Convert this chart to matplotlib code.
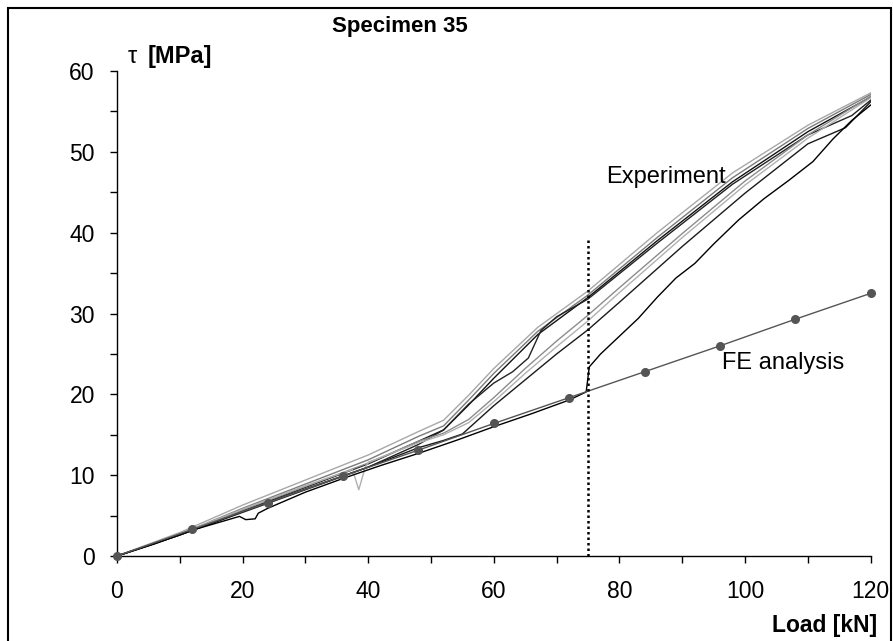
import numpy as np
import matplotlib.pyplot as plt
from matplotlib.patches import Rectangle
from matplotlib.ticker import MultipleLocator

plt.rcParams['font.family'] = ['Liberation Sans', 'DejaVu Sans']

# FE analysis
fe_load = [0, 12, 24, 36, 48, 60, 72, 84, 96, 108, 120]
fe_tau = [0.0, 3.3, 6.6, 9.9, 13.1, 16.4, 19.6, 22.8, 26.0, 29.3, 32.5]

# experiment curves (load kN, tau MPa)
exp_curves = {
    "u1": ([0, 10, 20, 30, 40, 48, 52, 56, 60, 67, 75, 86, 98, 110, 120],
           [0, 2.9, 6.3, 9.4, 12.5, 15.4, 16.8, 19.9, 23.2, 28.3, 32.8, 40.0, 47.4, 53.3, 57.3]),
    "u2": ([0, 10, 20, 30, 40, 48, 52, 56, 60, 67, 75, 86, 98, 110, 120],
           [0, 2.7, 5.9, 8.9, 11.9, 14.8, 16.1, 19.3, 22.6, 27.8, 32.3, 39.4, 46.8, 52.9, 57.1]),
    "u3": ([0, 10, 20, 30, 40, 48, 52, 56, 60, 67, 75, 86, 98, 110, 120],
           [0, 2.6, 5.6, 8.5, 11.4, 14.2, 15.6, 18.7, 22.0, 27.4, 32.0, 39.0, 46.3, 52.5, 56.8]),
    "u4": ([0, 10, 20, 30, 40, 48, 52, 56, 60, 63, 65.5, 67.5, 70, 75, 86, 98, 110, 117, 120],
           [0, 2.6, 5.5, 8.3, 11.0, 13.8, 15.6, 18.8, 21.4, 22.8, 24.5, 27.9, 29.6, 31.8, 38.7, 46.0, 52.1, 54.5, 56.4]),
    "m1": ([0, 10, 20, 30, 40, 48, 52, 56, 60, 65, 70, 75, 80, 90, 100, 110, 120],
           [0, 2.6, 5.7, 8.6, 11.5, 14.2, 15.2, 16.9, 19.6, 23.2, 26.6, 29.8, 33.2, 39.9, 46.4, 52.1, 56.9]),
    "m2": ([0, 10, 20, 30, 36, 37.5, 38.5, 39.5, 40, 48, 52, 56, 60, 65, 70, 75, 80, 90, 100, 110, 120],
           [0, 2.7, 5.8, 8.7, 10.3, 10.7, 8.2, 10.9, 11.6, 14.0, 15.0, 16.5, 19.1, 22.6, 25.9, 29.1, 32.6, 39.4, 45.9, 51.7, 56.7]),
    "m3": ([0, 10, 20, 30, 40, 48, 52, 55, 58, 60, 65, 70, 75, 80, 90, 100, 110, 116, 120],
           [0, 2.6, 5.4, 8.2, 11.0, 13.4, 14.3, 15.1, 17.2, 18.6, 21.8, 25.0, 28.0, 31.4, 38.3, 44.9, 51.0, 53.0, 56.2]),
    "l1": ([0, 6, 12, 19.5, 20.5, 22, 22.5, 24, 30, 36, 42, 48, 54, 60, 66, 72, 74.7, 75.2, 77, 80, 83,
            86, 89, 92, 95, 99, 103, 107, 110.8, 114, 117, 120],
           [0, 1.5, 3.2, 4.9, 4.5, 4.6, 5.3, 5.9, 7.9, 9.6, 11.2, 12.7, 14.3, 16.0, 17.6, 19.3, 20.3, 23.4, 25.0,
            27.2, 29.4, 32.0, 34.4, 36.2, 38.6, 41.6, 44.2, 46.5, 48.8, 51.6, 53.9, 55.8]),
}
exp_colors = {"u1": "#a8a8a8", "u2": "#7a7a7a", "u3": "#111111", "u4": "#222222",
              "m1": "#8c8c8c", "m2": "#b0b0b0", "m3": "#1a1a1a", "l1": "#000000"}

fig = plt.figure(figsize=(8.93, 6.41), dpi=100)
ax = fig.add_axes([0.131, 0.1326, 0.844, 0.7565])

for key, (xs, ys) in exp_curves.items():
    ax.plot(xs, ys, color=exp_colors[key], lw=1.0, zorder=2)

ax.plot(fe_load, fe_tau, color="#555555", lw=1.0, marker="o", ms=5.5,
        markerfacecolor="#555555", markeredgecolor="#555555", zorder=3, clip_on=False)

ax.plot([75, 75], [0, 39.5], color="black", lw=1.8, linestyle=(0, (1, 1.2)), zorder=4)

ax.text(77.8, 46.15, "Experiment", fontsize=17, va="baseline", ha="left")
ax.text(96.3, 23.1, "FE analysis", fontsize=17, va="baseline", ha="left")

ax.set_xlim(0, 120)
ax.set_ylim(0, 60)
ax.xaxis.set_major_locator(MultipleLocator(20))
ax.xaxis.set_minor_locator(MultipleLocator(10))
ax.yaxis.set_major_locator(MultipleLocator(10))
ax.yaxis.set_minor_locator(MultipleLocator(5))
ax.tick_params(which="both", direction="out", length=5, width=1, labelsize=16.5)
ax.tick_params(axis="x", which="major", pad=12)
ax.tick_params(axis="y", which="major", pad=11)
for s in ["top", "right"]:
    ax.spines[s].set_visible(False)
for s in ["left", "bottom"]:
    ax.spines[s].set_linewidth(1.0)

fig.text(0.448, 0.950, "Specimen 35", fontsize=16, fontweight="bold", ha="center", va="baseline")
fig.text(128 / 893, 0.902, "τ", fontsize=17, ha="left", va="baseline")
fig.text(148 / 893, 0.902, "[MPa]", fontsize=17, fontweight="bold", ha="left", va="baseline")
fig.text(877 / 893, 0.014, "Load [kN]", fontsize=16.5, fontweight="bold", ha="right", va="baseline")

fig.patches.append(Rectangle((0.009, -0.02), 0.989, 1.0075, transform=fig.transFigure,
                             fill=False, edgecolor="black", lw=1.5))

fig.savefig("out.png", dpi=100)
